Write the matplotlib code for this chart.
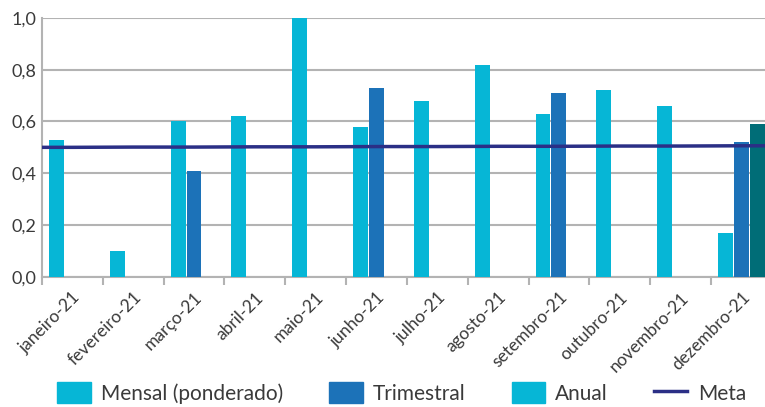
import numpy as np
from matplotlib import pyplot as plt
from matplotlib.patches import Patch
from matplotlib.lines import Line2D
from matplotlib.ticker import FuncFormatter

plt.rcParams['font.family'] = ['Lato', 'DejaVu Sans']

months = ['janeiro-21', 'fevereiro-21', 'março-21', 'abril-21', 'maio-21', 'junho-21',
          'julho-21', 'agosto-21', 'setembro-21', 'outubro-21', 'novembro-21', 'dezembro-21']
mensal = [0.53, 0.10, 0.60, 0.62, 1.00, 0.58, 0.68, 0.82, 0.63, 0.72, 0.66, 0.17]
trimestral = [0, 0, 0.41, 0, 0, 0.73, 0, 0, 0.71, 0, 0, 0.52]
anual = [0, 0, 0, 0, 0, 0, 0, 0, 0, 0, 0, 0.59]
meta = [0.500, 0.501, 0.501, 0.502, 0.502, 0.503, 0.503, 0.504, 0.504, 0.505, 0.505, 0.506]

c_mensal = '#06B6D6'
c_trim = '#1C72B8'
c_anual = '#006D77'
c_meta = '#2B2F86'
grid_c = '#B3B3B3'
text_c = '#3A3A3A'

fig = plt.figure(figsize=(7.65, 4.07), dpi=100)
ax = fig.add_axes([0.0549, 0.32, 0.954, 0.636])

x = np.arange(len(months))
w = 0.262
ax.bar(x - w, mensal, 0.245, color=c_mensal, zorder=3)
ax.bar(x, trimestral, 0.245, color=c_trim, zorder=3)
ax.bar(x + w, anual, 0.245, color=c_anual, zorder=3)

# meta line runs edge to edge
xm = np.concatenate([[-0.5], x, [11.5]])
ym = [meta[0]] + meta + [meta[-1]]
ax.plot(xm, ym, color=c_meta, lw=2.5, zorder=4)

ax.set_xlim(-0.5, 11.5)
ax.set_ylim(0, 1.0)
ax.set_yticks(np.arange(0, 1.01, 0.2))
ax.yaxis.set_major_formatter(FuncFormatter(lambda v, p: f'{v:.1f}'.replace('.', ',')))
ax.yaxis.grid(True, color=grid_c, lw=1.5, zorder=0)
ax.tick_params(axis='y', length=0, labelsize=13, labelcolor=text_c, pad=4)

ax.set_xticks(x)
ax.set_xticklabels(months, rotation=45, ha='right', rotation_mode='anchor',
                   fontsize=12.5, color=text_c)
ax.set_xticks(np.arange(-0.5, 11.6, 1), minor=True)
ax.tick_params(axis='x', which='major', length=0, pad=9)
ax.tick_params(axis='x', which='minor', length=6, width=1.5, color=grid_c)

for s in ['top', 'right']:
    ax.spines[s].set_visible(False)
for s in ['left', 'bottom']:
    ax.spines[s].set_color(grid_c)
    ax.spines[s].set_linewidth(1.5)

handles = [Patch(color=c_mensal), Patch(color=c_trim), Patch(color=c_mensal),
           Line2D([], [], color=c_meta, lw=2.5)]
labels = ['Mensal (ponderado)', 'Trimestral', 'Anual', 'Meta']
fig.legend(handles, labels, loc='center', bbox_to_anchor=(0.525, 0.035), ncol=4,
           frameon=False, fontsize=15, handlelength=1.6, handleheight=1.2,
           handletextpad=0.5, columnspacing=2.2, labelcolor=text_c)

fig.savefig('out.png', dpi=100)
